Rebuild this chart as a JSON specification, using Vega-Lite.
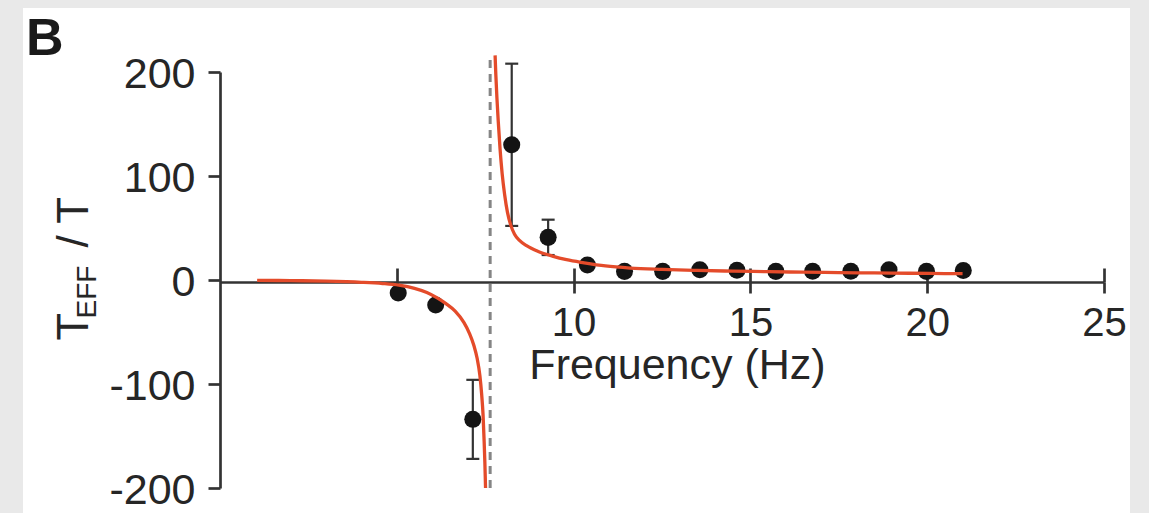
{
  "$schema": "https://vega.github.io/schema/vega-lite/v6.json",
  "autosize": {"type": "none"},
  "width": 1107,
  "height": 505,
  "padding": {"left": 23, "top": 8, "right": 19, "bottom": 0},
  "background": "#e9e9e9",
  "title": {
    "text": "B",
    "anchor": "start",
    "frame": "group",
    "orient": "top",
    "offset": -99,
    "dx": 3,
    "baseline": "alphabetic",
    "fontSize": 52,
    "fontWeight": "bold",
    "font": "Liberation Sans",
    "color": "#1a1a1a"
  },
  "config": {
    "view": {"fill": "white", "stroke": null},
    "font": "Liberation Sans",
    "axis": {
      "domainColor": "#333333",
      "domainWidth": 2.7,
      "tickColor": "#333333",
      "tickWidth": 2.7,
      "labelColor": "#262626",
      "titleColor": "#262626",
      "labelFont": "Liberation Sans",
      "titleFont": "Liberation Sans",
      "titleFontWeight": "normal",
      "grid": false,
      "labelFlush": false,
      "labelOverlap": false
    }
  },
  "datasets": {
    "pts": [
      {"f": 5.04, "t": -12.5},
      {"f": 6.1, "t": -24},
      {"f": 7.15, "t": -134, "lo": -172, "hi": -96},
      {"f": 8.25, "t": 130, "lo": 52, "hi": 208},
      {"f": 9.28, "t": 41, "lo": 24, "hi": 58},
      {"f": 10.39, "t": 14.5},
      {"f": 11.44, "t": 8.3},
      {"f": 12.52, "t": 8.3},
      {"f": 13.57, "t": 9.8},
      {"f": 14.62, "t": 9.3},
      {"f": 15.72, "t": 8.3},
      {"f": 16.76, "t": 8.5},
      {"f": 17.84, "t": 8.5},
      {"f": 18.92, "t": 9.8},
      {"f": 19.98, "t": 8.3},
      {"f": 21.02, "t": 9.2}
    ],
    "asymptote": [
      {"f": 7.64, "lo": -200, "hi": 212}
    ],
    "fit": [
      {"branch": "below", "f": 1.05, "t": -0.3},
      {"branch": "below", "f": 2.0, "t": -0.6},
      {"branch": "below", "f": 3.0, "t": -1.1},
      {"branch": "below", "f": 4.0, "t": -2.2},
      {"branch": "below", "f": 4.6, "t": -3.4},
      {"branch": "below", "f": 5.06, "t": -5},
      {"branch": "below", "f": 5.5, "t": -8},
      {"branch": "below", "f": 5.85, "t": -12},
      {"branch": "below", "f": 6.13, "t": -17},
      {"branch": "below", "f": 6.4, "t": -23},
      {"branch": "below", "f": 6.65, "t": -30},
      {"branch": "below", "f": 6.9, "t": -41},
      {"branch": "below", "f": 7.05, "t": -51},
      {"branch": "below", "f": 7.18, "t": -63},
      {"branch": "below", "f": 7.27, "t": -75},
      {"branch": "below", "f": 7.35, "t": -92},
      {"branch": "below", "f": 7.4, "t": -110},
      {"branch": "below", "f": 7.44, "t": -130},
      {"branch": "below", "f": 7.47, "t": -155},
      {"branch": "below", "f": 7.49, "t": -175},
      {"branch": "below", "f": 7.51, "t": -200},
      {"branch": "above", "f": 7.78, "t": 216},
      {"branch": "above", "f": 7.8, "t": 198},
      {"branch": "above", "f": 7.83, "t": 176},
      {"branch": "above", "f": 7.87, "t": 152},
      {"branch": "above", "f": 7.92, "t": 126},
      {"branch": "above", "f": 7.98, "t": 102},
      {"branch": "above", "f": 8.05, "t": 82},
      {"branch": "above", "f": 8.13, "t": 65},
      {"branch": "above", "f": 8.22, "t": 53},
      {"branch": "above", "f": 8.33, "t": 44},
      {"branch": "above", "f": 8.47, "t": 38},
      {"branch": "above", "f": 8.67, "t": 33},
      {"branch": "above", "f": 9.0, "t": 27.5},
      {"branch": "above", "f": 9.4, "t": 23},
      {"branch": "above", "f": 9.8, "t": 19.5},
      {"branch": "above", "f": 10.3, "t": 16.5},
      {"branch": "above", "f": 10.9, "t": 13.5},
      {"branch": "above", "f": 11.6, "t": 11.5},
      {"branch": "above", "f": 12.5, "t": 10.2},
      {"branch": "above", "f": 13.5, "t": 9.2},
      {"branch": "above", "f": 14.5, "t": 8.5},
      {"branch": "above", "f": 15.5, "t": 8},
      {"branch": "above", "f": 16.5, "t": 7.5},
      {"branch": "above", "f": 17.5, "t": 7.1},
      {"branch": "above", "f": 18.5, "t": 6.8},
      {"branch": "above", "f": 19.5, "t": 6.5},
      {"branch": "above", "f": 20.5, "t": 6.2},
      {"branch": "above", "f": 21.0, "t": 6.1}
    ]
  },
  "layer": [
    {
      "data": {"name": "asymptote"},
      "mark": {"type": "rule", "color": "#858585", "strokeWidth": 3, "strokeDash": [8, 6]},
      "encoding": {
        "x": {
          "field": "f", "type": "quantitative",
          "scale": {"domain": [0, 25], "range": [197, 1081], "nice": false, "zero": false},
          "axis": {"orient": "top", "offset": -274, "values": [5, 10, 15, 20, 25], "tickSize": 14, "domain": false, "labels": false, "title": null}
        },
        "y": {
          "field": "lo", "type": "quantitative",
          "scale": {"domain": [-200, 200], "range": [480, 64], "nice": false, "zero": false},
          "axis": {"orient": "left", "offset": -197, "domain": false, "ticks": false, "labels": false, "title": "EFF", "titleFontSize": 28, "titleAngle": 270, "titleX": -125, "titleY": 310, "titleAlign": "left", "titleBaseline": "alphabetic"}
        },
        "y2": {"field": "hi"}
      }
    },
    {
      "data": {"name": "pts"},
      "transform": [{"filter": "isValid(datum.lo)"}],
      "mark": {"type": "rule", "color": "#333333", "strokeWidth": 2.2},
      "encoding": {
        "x": {"field": "f", "type": "quantitative", "scale": {"domain": [0, 25], "range": [197, 1081], "nice": false, "zero": false}, "axis": null},
        "y": {"field": "lo", "type": "quantitative", "scale": {"domain": [-200, 200], "range": [480, 64], "nice": false, "zero": false}, "axis": null},
        "y2": {"field": "hi"}
      }
    },
    {
      "data": {"name": "pts"},
      "transform": [{"filter": "isValid(datum.lo)"}],
      "mark": {"type": "tick", "orient": "horizontal", "size": 13, "thickness": 2.2, "color": "#333333", "opacity": 1},
      "encoding": {
        "x": {"field": "f", "type": "quantitative", "scale": {"domain": [0, 25], "range": [197, 1081], "nice": false, "zero": false}, "axis": null},
        "y": {"field": "lo", "type": "quantitative", "scale": {"domain": [-200, 200], "range": [480, 64], "nice": false, "zero": false}, "axis": null}
      }
    },
    {
      "data": {"name": "pts"},
      "transform": [{"filter": "isValid(datum.hi)"}],
      "mark": {"type": "tick", "orient": "horizontal", "size": 13, "thickness": 2.2, "color": "#333333", "opacity": 1},
      "encoding": {
        "x": {"field": "f", "type": "quantitative", "scale": {"domain": [0, 25], "range": [197, 1081], "nice": false, "zero": false}, "axis": null},
        "y": {"field": "hi", "type": "quantitative", "scale": {"domain": [-200, 200], "range": [480, 64], "nice": false, "zero": false}, "axis": null}
      }
    },
    {
      "data": {"name": "pts"},
      "mark": {"type": "circle", "size": 290, "color": "#141414", "opacity": 1},
      "encoding": {
        "x": {"field": "f", "type": "quantitative", "scale": {"domain": [0, 25], "range": [197, 1081], "nice": false, "zero": false}, "axis": null},
        "y": {
          "field": "t", "type": "quantitative",
          "scale": {"domain": [-200, 200], "range": [480, 64], "nice": false, "zero": false},
          "axis": {"orient": "left", "offset": -197, "domain": false, "ticks": false, "labels": false, "title": "/ T", "titleFontSize": 44, "titleAngle": 270, "titleX": -133, "titleY": 239, "titleAlign": "left", "titleBaseline": "alphabetic"}
        }
      }
    },
    {
      "data": {"name": "fit"},
      "mark": {"type": "line", "color": "#e44b2a", "strokeWidth": 3.3, "interpolate": "monotone"},
      "encoding": {
        "x": {
          "field": "f", "type": "quantitative",
          "scale": {"domain": [0, 25], "range": [197, 1081], "nice": false, "zero": false},
          "axis": {"orient": "bottom", "offset": -231, "values": [5, 10, 15, 20, 25], "tickSize": 11, "labelExpr": "datum.value >= 10 ? toString(datum.value) : ''", "labelFontSize": 40, "labelBaseline": "alphabetic", "labelPadding": 42, "title": "Frequency (Hz)", "titleFontSize": 43, "titleX": 654, "titleY": 96, "titleAlign": "center", "titleBaseline": "alphabetic"}
        },
        "y": {
          "field": "t", "type": "quantitative",
          "scale": {"domain": [-200, 200], "range": [480, 64], "nice": false, "zero": false},
          "axis": {"orient": "left", "offset": -197, "values": [-200, -100, 0, 100, 200], "tickSize": 12, "labelExpr": "toString(datum.value)", "labelFontSize": 43, "labelPadding": 13, "labelOffset": 2, "title": "T", "titleFontSize": 45, "titleAngle": 270, "titleX": -133, "titleY": 332, "titleAlign": "left", "titleBaseline": "alphabetic"}
        },
        "detail": {"field": "branch"}
      }
    }
  ],
  "resolve": {"axis": {"x": "independent", "y": "independent"}}
}
